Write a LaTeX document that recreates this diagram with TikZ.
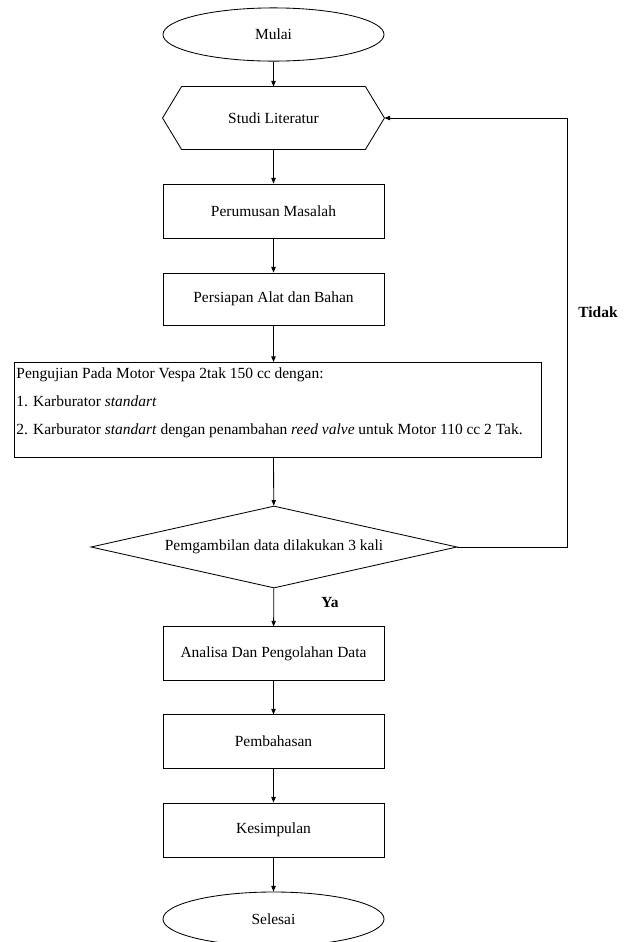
\documentclass[tikz,border=0pt]{standalone}
\usepackage{fontspec}
\setmainfont{Liberation Serif}
\usetikzlibrary{arrows.meta,shapes.geometric,positioning}

\begin{document}
\begin{tikzpicture}[x=0.025cm, y=-0.025cm, line width=0.6pt,
        font=\fontsize{11}{13}\selectfont,
        >={Triangle[length=1.4mm,width=1.1mm]},
        proses/.style = {rectangle, draw, minimum width=5.525cm, minimum height=1.33cm},
        terminal/.style = {ellipse, draw, minimum width=5.525cm, minimum height=1.33cm},
        jawab/.style = {font=\fontsize{11}{13}\selectfont\bfseries}]
    \useasboundingbox (0,0) rectangle (633,942);
    \node [terminal] (mulai) at (273.5,34.5) {Mulai};
    \node [minimum width=5.525cm, minimum height=1.55cm] (studi) at (273.5,118) {Studi Literatur};
    \draw (studi.west) -- ([xshift=0.475cm]studi.north west) -- ([xshift=-0.475cm]studi.north east)
        -- (studi.east) -- ([xshift=-0.475cm]studi.south east) -- ([xshift=0.475cm]studi.south west) -- cycle;
    \node [proses, minimum height=1.35cm] (rumusan) at (273.5,211) {Perumusan Masalah};
    \node [proses, minimum height=1.3cm] (persiapan) at (273.5,299) {Persiapan Alat dan Bahan};
    \node [draw, anchor=north west, inner xsep=0.05cm, inner ysep=4pt] (uji) at (14,362)
        {\parbox[t][2.093cm][t]{13.075cm}{\raggedright\fontsize{11}{19.9}\selectfont
            Pengujian Pada Motor Vespa 2tak 150 cc dengan:\\
            1. Karburator \textit{standart}\\
            2. Karburator \textit{standart} dengan penambahan \textit{reed valve} untuk Motor 110 cc 2 Tak.}};
    \node [diamond, draw, aspect=4.46, inner sep=0pt, minimum width=9.15cm, minimum height=2.05cm]
        (ambil) at (274,547) {Pemgambilan data dilakukan 3 kali};
    \node [proses] (analisa) at (273.5,653.5) {Analisa Dan Pengolahan Data};
    \node [proses] (bahas) at (273.5,741.5) {Pembahasan};
    \node [proses, minimum height=1.35cm] (simpul) at (273.5,830) {Kesimpulan};
    \node [terminal, minimum height=1.35cm] (selesai) at (273.5,919) {Selesai};
    \node [jawab] (ya) at (330,603) {Ya};
    \node [jawab] (tidak) at (598,312) {Tidak};
    \coordinate (balik) at (567,118);

    \draw [->] (mulai) -- (studi);
    \draw [->] (studi) -- (rumusan);
    \draw [->] (rumusan) -- (persiapan);
    \draw [->] (persiapan) -- (persiapan |- uji.north);
    \draw [->] (persiapan |- uji.south) -- (ambil);
    \draw [->] (ambil) -- (analisa);
    \draw [->] (analisa) -- (bahas);
    \draw [->] (bahas) -- (simpul);
    \draw [->] (simpul) -- (selesai);
    \draw [->] (ambil.east) -| (balik) -- (studi.east);
\end{tikzpicture}
\end{document}
